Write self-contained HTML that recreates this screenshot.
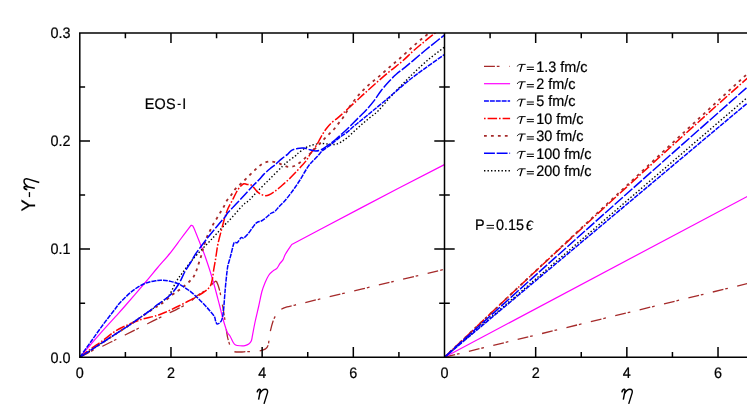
<!DOCTYPE html>
<html><head><meta charset="utf-8"><title>chart</title>
<style>html,body{margin:0;padding:0;background:#fff;}svg{display:block;will-change:transform}text{font-family:"Liberation Sans",sans-serif;fill:#000;text-rendering:geometricPrecision;stroke:#000;stroke-width:0.22px}.sy{font-family:"Liberation Serif",serif;font-style:italic}</style>
</head><body>
<svg width="747" height="416" viewBox="0 0 747 416">
<rect width="747" height="416" fill="#fff"/>
<defs><clipPath id="cl"><rect x="79.80" y="32.90" width="364.70" height="324.30"/></clipPath><clipPath id="cr"><rect x="444.50" y="32.90" width="304.50" height="324.30"/></clipPath></defs>
<g fill="none" stroke-linejoin="round" clip-path="url(#cl)">
<path d="M79.80 357.20 C81.58 356.27 86.63 353.47 90.50 351.60 C94.37 349.73 98.83 347.98 103.00 346.00 C107.17 344.02 111.75 341.62 115.50 339.75 C119.25 337.88 121.75 336.62 125.50 334.75 C129.25 332.88 134.25 330.38 138.00 328.50 C141.75 326.62 144.46 325.27 148.00 323.50 C151.54 321.73 156.33 319.36 159.25 317.90 C162.17 316.44 162.04 316.45 165.50 314.75 C168.96 313.05 175.92 309.86 180.00 307.70 C184.08 305.54 187.08 303.82 190.00 301.80 C192.92 299.78 195.00 297.47 197.50 295.60 C200.00 293.73 202.92 292.10 205.00 290.60 C207.08 289.10 208.58 287.90 210.00 286.60 C211.42 285.30 212.46 283.75 213.50 282.80 C214.54 281.85 215.79 281.22 216.25 280.90" stroke="#a52a2a" stroke-width="1.30" stroke-dasharray="10.9 1.9 2.7 9.6"/>
<path d="M281.30 309.20 C280.95 309.50 280.03 310.10 279.20 311.00 C278.37 311.90 277.32 312.93 276.30 314.60 C275.28 316.27 274.15 317.95 273.10 321.00 C272.05 324.05 270.83 328.83 270.00 332.90 C269.17 336.97 268.93 342.70 268.10 345.40 C267.27 348.10 266.77 348.12 265.00 349.10 C263.23 350.08 260.52 350.83 257.50 351.25 C254.48 351.67 249.82 351.48 246.90 351.60 C243.98 351.73 242.40 352.06 240.00 352.00 C237.60 351.94 234.08 352.00 232.50 351.25 C230.92 350.50 231.12 349.11 230.50 347.50 C229.88 345.89 229.25 343.35 228.75 341.60 C228.25 339.85 227.96 339.35 227.50 337.00 C227.04 334.65 226.50 330.83 226.00 327.50 C225.50 324.17 225.00 320.25 224.50 317.00 C224.00 313.75 223.50 310.83 223.00 308.00 C222.50 305.17 222.00 302.67 221.50 300.00 C221.00 297.33 220.57 294.46 220.00 292.00 C219.43 289.54 218.72 287.10 218.10 285.25 C217.47 283.40 216.56 281.62 216.25 280.90" stroke="#a52a2a" stroke-width="1.30" stroke-dasharray="2.7 1.9 10.9 9.6" stroke-dashoffset="15.5"/>
<path d="M281.30 309.20 C281.75 308.98 283.05 308.28 284.00 307.90 C284.95 307.52 285.37 307.33 287.00 306.90 C288.63 306.47 292.67 305.57 293.80 305.30 C297.95 304.30 300.50 303.65 318.70 299.30 C336.90 294.95 382.05 284.20 403.00 279.20 C423.95 274.20 437.50 270.95 444.40 269.30" stroke="#a52a2a" stroke-width="1.30" stroke-dasharray="10.9 1.9 2.7 9.6"/>
<path d="M79.80 357.20 C81.58 355.12 86.63 349.22 90.50 344.75 C94.37 340.28 98.83 335.09 103.00 330.40 C107.17 325.71 111.83 320.67 115.50 316.60 C119.17 312.53 120.08 311.64 125.00 306.00 C129.92 300.36 139.58 289.12 145.00 282.75 C150.42 276.38 153.43 272.54 157.50 267.75 C161.57 262.96 165.44 258.92 169.40 254.00 C173.36 249.08 177.65 243.03 181.25 238.25 C184.85 233.47 189.38 227.46 191.00 225.30 C191.20 225.35 192.00 225.55 192.20 225.60 C192.46 225.97 192.45 224.86 193.75 227.80 C195.05 230.74 198.12 238.55 200.00 243.25 C201.88 247.95 202.92 250.04 205.00 256.00 C207.08 261.96 210.07 270.75 212.50 279.00 C214.93 287.25 217.93 299.12 219.60 305.50 C221.27 311.88 221.39 313.21 222.50 317.25 C223.61 321.29 225.42 327.14 226.25 329.75 C227.08 332.36 226.88 331.86 227.50 332.90 C228.12 333.94 229.07 334.44 230.00 336.00 C230.93 337.56 232.17 340.75 233.10 342.25 C234.03 343.75 234.45 344.42 235.60 345.00 C236.75 345.58 238.43 345.65 240.00 345.75 C241.57 345.85 243.54 345.88 245.00 345.60 C246.46 345.33 247.71 344.87 248.75 344.10 C249.79 343.33 250.62 342.45 251.25 341.00 C251.88 339.55 251.88 338.52 252.50 335.40 C253.12 332.27 253.96 327.15 255.00 322.25 C256.04 317.35 257.60 311.12 258.75 306.00 C259.90 300.88 260.86 295.38 261.90 291.50 C262.94 287.62 263.86 285.46 265.00 282.75 C266.14 280.04 267.40 277.23 268.75 275.25 C270.10 273.27 271.74 272.04 273.10 270.90 C274.46 269.76 275.75 269.65 276.90 268.40 C278.05 267.15 278.97 264.87 280.00 263.40 C281.03 261.93 282.18 261.17 283.10 259.60 C284.02 258.03 284.06 256.52 285.50 254.00 C286.94 251.48 290.71 246.08 291.75 244.50 C296.62 241.92 303.29 238.33 321.00 229.00 C338.71 219.67 377.43 199.23 398.00 188.50 C418.57 177.77 436.67 168.58 444.40 164.60" stroke="#ff00ff" stroke-width="1.20"/>
<path d="M79.80 357.20 C81.58 356.07 86.63 352.89 90.50 350.40 C94.37 347.91 98.83 344.97 103.00 342.25 C107.17 339.53 111.33 336.81 115.50 334.10 C119.67 331.39 123.83 328.81 128.00 326.00 C132.17 323.19 136.33 320.17 140.50 317.25 C144.67 314.33 148.92 311.46 153.00 308.50 C157.08 305.54 162.17 301.92 165.00 299.50 C167.83 297.08 168.12 297.00 170.00 294.00 C171.88 291.00 174.17 285.04 176.25 281.50 C178.33 277.96 180.21 275.88 182.50 272.75 C184.79 269.62 187.50 265.88 190.00 262.75 C192.50 259.62 193.75 258.08 197.50 254.00 C201.25 249.92 207.92 243.17 212.50 238.25 C217.08 233.33 222.21 227.46 225.00 224.50 C227.79 221.54 226.25 223.73 229.25 220.50 C232.25 217.27 239.75 208.42 243.00 205.10 C246.25 201.78 246.33 202.91 248.75 200.60 C251.17 198.29 253.96 194.89 257.50 191.25 C261.04 187.61 265.83 182.92 270.00 178.75 C274.17 174.58 279.33 169.29 282.50 166.25 C285.67 163.21 286.92 162.17 289.00 160.50 C291.08 158.83 293.58 157.38 295.00 156.25 C296.42 155.12 295.83 155.11 297.50 153.75 C299.17 152.39 302.50 149.56 305.00 148.10 C307.50 146.64 310.00 145.77 312.50 145.00 C315.00 144.23 317.50 143.67 320.00 143.50 C322.50 143.33 325.00 143.85 327.50 144.00 C330.00 144.15 332.71 144.75 335.00 144.40 C337.29 144.05 339.17 143.05 341.25 141.90 C343.33 140.75 345.21 139.38 347.50 137.50 C349.79 135.62 352.50 132.89 355.00 130.60 C357.50 128.31 360.00 125.93 362.50 123.75 C365.00 121.57 367.33 119.71 370.00 117.50 C372.67 115.29 375.17 113.85 378.50 110.50 C381.83 107.15 386.00 101.78 390.00 97.40 C394.00 93.03 398.33 88.53 402.50 84.25 C406.67 79.97 410.62 75.92 415.00 71.75 C419.38 67.58 424.17 63.11 428.75 59.25 C433.33 55.39 439.89 50.61 442.50 48.60 C445.11 46.59 444.08 47.43 444.40 47.20" stroke="#000000" stroke-width="1.40" stroke-dasharray="1.4 2.1"/>
<path d="M79.80 357.20 C81.58 355.85 86.63 351.90 90.50 349.10 C94.37 346.30 98.83 343.42 103.00 340.40 C107.17 337.38 111.33 333.61 115.50 331.00 C119.67 328.39 123.83 326.62 128.00 324.75 C132.17 322.88 136.33 321.11 140.50 319.75 C144.67 318.39 149.88 317.43 153.00 316.60 C156.12 315.77 157.17 315.48 159.25 314.75 C161.33 314.02 163.54 313.08 165.50 312.25 C167.46 311.42 168.79 310.79 171.00 309.75 C173.21 308.71 176.00 307.38 178.75 306.00 C181.50 304.62 184.79 302.93 187.50 301.50 C190.21 300.07 192.50 298.82 195.00 297.40 C197.50 295.98 200.42 294.35 202.50 293.00 C204.58 291.65 206.15 290.55 207.50 289.30 C208.85 288.05 209.78 287.22 210.60 285.50 C211.42 283.78 211.88 281.67 212.40 279.00 C212.93 276.33 213.22 272.83 213.75 269.50 C214.28 266.17 215.18 261.50 215.60 259.00 C216.02 256.50 215.83 257.12 216.25 254.50 C216.67 251.88 217.16 247.62 218.10 243.25 C219.04 238.88 220.75 232.62 221.90 228.25 C223.05 223.88 223.97 220.33 225.00 217.00 C226.03 213.67 226.85 211.08 228.10 208.25 C229.35 205.42 231.14 202.62 232.50 200.00 C233.86 197.38 235.00 194.68 236.25 192.50 C237.50 190.32 238.75 188.36 240.00 186.90 C241.25 185.44 242.60 184.17 243.75 183.75 C244.90 183.33 245.76 184.23 246.90 184.40 C248.04 184.57 249.46 184.23 250.60 184.75 C251.74 185.27 252.60 186.31 253.75 187.50 C254.90 188.69 256.25 190.75 257.50 191.90 C258.75 193.05 260.00 193.78 261.25 194.40 C262.50 195.02 263.75 195.50 265.00 195.60 C266.25 195.70 267.08 195.72 268.75 195.00 C270.42 194.28 272.71 192.92 275.00 191.25 C277.29 189.58 280.21 186.97 282.50 185.00 C284.79 183.03 286.67 181.38 288.75 179.40 C290.83 177.42 292.92 175.29 295.00 173.10 C297.08 170.91 299.38 168.33 301.25 166.25 C303.12 164.17 304.79 162.57 306.25 160.60 C307.71 158.62 308.54 156.58 310.00 154.40 C311.46 152.22 313.54 149.69 315.00 147.50 C316.46 145.31 317.50 143.43 318.75 141.25 C320.00 139.07 321.25 136.48 322.50 134.40 C323.75 132.32 324.79 130.63 326.25 128.75 C327.71 126.87 329.38 124.88 331.25 123.10 C333.12 121.32 335.62 119.66 337.50 118.10 C339.38 116.54 341.00 115.10 342.50 113.75 C344.00 112.40 344.21 112.11 346.50 110.00 C348.79 107.89 353.17 103.93 356.25 101.10 C359.33 98.27 361.46 96.22 365.00 93.00 C368.54 89.78 373.33 85.40 377.50 81.75 C381.67 78.10 385.83 74.54 390.00 71.10 C394.17 67.66 398.54 64.53 402.50 61.10 C406.46 57.67 410.00 53.83 413.75 50.50 C417.50 47.17 421.56 43.92 425.00 41.10 C428.44 38.28 432.40 35.20 434.40 33.60 C436.40 32.00 436.57 31.85 437.00 31.50" stroke="#ff0000" stroke-width="1.50" stroke-dasharray="9.5 1.9 1.6 2.0"/>
<path d="M79.80 357.20 C81.58 356.07 86.63 352.89 90.50 350.40 C94.37 347.91 98.83 344.97 103.00 342.25 C107.17 339.53 111.33 336.81 115.50 334.10 C119.67 331.39 123.83 328.77 128.00 326.00 C132.17 323.23 136.33 320.33 140.50 317.50 C144.67 314.67 149.54 311.25 153.00 309.00 C156.46 306.75 158.00 306.40 161.25 304.00 C164.50 301.60 169.58 296.89 172.50 294.60 C175.42 292.31 176.88 291.60 178.75 290.25 C180.62 288.90 181.97 287.96 183.75 286.50 C185.53 285.04 187.73 283.17 189.40 281.50 C191.07 279.83 192.57 278.38 193.75 276.50 C194.93 274.62 195.67 272.43 196.50 270.25 C197.33 268.07 198.00 265.69 198.75 263.40 C199.50 261.11 200.29 258.90 201.00 256.50 C201.71 254.10 202.02 252.25 203.00 249.00 C203.98 245.75 205.73 240.04 206.90 237.00 C208.07 233.96 208.97 232.83 210.00 230.75 C211.03 228.67 211.95 226.58 213.10 224.50 C214.25 222.42 215.65 220.33 216.90 218.25 C218.15 216.17 219.46 213.92 220.60 212.00 C221.74 210.08 222.70 208.65 223.75 206.75 C224.80 204.85 225.65 202.56 226.90 200.60 C228.15 198.64 229.90 196.87 231.25 195.00 C232.60 193.13 233.54 191.17 235.00 189.40 C236.46 187.63 238.33 186.01 240.00 184.40 C241.67 182.79 243.33 181.36 245.00 179.75 C246.67 178.14 248.43 176.28 250.00 174.75 C251.57 173.22 252.94 171.97 254.40 170.60 C255.86 169.22 257.19 167.75 258.75 166.50 C260.31 165.25 261.88 163.93 263.75 163.10 C265.62 162.27 267.92 161.60 270.00 161.50 C272.08 161.40 274.17 161.96 276.25 162.50 C278.33 163.04 280.52 164.02 282.50 164.75 C284.48 165.48 286.12 166.69 288.10 166.90 C290.08 167.11 292.42 166.73 294.40 166.00 C296.38 165.27 298.13 163.90 300.00 162.50 C301.87 161.10 303.83 159.17 305.60 157.60 C307.37 156.03 308.93 154.68 310.60 153.10 C312.27 151.52 313.93 149.82 315.60 148.10 C317.27 146.38 319.03 144.42 320.60 142.75 C322.17 141.08 323.43 139.71 325.00 138.10 C326.57 136.49 328.43 134.66 330.00 133.10 C331.57 131.54 332.94 130.42 334.40 128.75 C335.86 127.08 337.30 124.97 338.75 123.10 C340.20 121.22 341.74 119.47 343.10 117.50 C344.46 115.53 345.75 113.15 346.90 111.25 C348.05 109.35 348.02 108.82 350.00 106.10 C351.98 103.38 355.62 98.43 358.75 94.90 C361.88 91.37 365.31 88.03 368.75 84.90 C372.19 81.77 375.86 79.12 379.40 76.10 C382.94 73.07 386.57 69.72 390.00 66.75 C393.43 63.78 396.46 61.42 400.00 58.30 C403.54 55.17 407.71 51.17 411.25 48.00 C414.79 44.83 418.54 41.54 421.25 39.25 C423.96 36.96 425.88 35.59 427.50 34.25 C429.12 32.91 430.42 31.71 431.00 31.20" stroke="#a52a2a" stroke-width="1.80" stroke-dasharray="2.8 4.15"/>
<path d="M79.80 357.20 C81.58 354.71 86.63 347.66 90.50 342.25 C94.37 336.84 98.83 330.38 103.00 324.75 C107.17 319.12 112.67 312.17 115.50 308.50 C118.33 304.83 117.17 305.68 120.00 302.75 C122.83 299.82 128.33 294.12 132.50 290.90 C136.67 287.67 140.83 285.13 145.00 283.40 C149.17 281.67 154.58 281.02 157.50 280.50 C160.42 279.98 160.42 280.12 162.50 280.25 C164.58 280.38 167.29 280.62 170.00 281.25 C172.71 281.88 175.62 282.50 178.75 284.00 C181.88 285.50 185.62 287.96 188.75 290.25 C191.88 292.54 194.69 295.12 197.50 297.75 C200.31 300.38 203.52 303.79 205.60 306.00 C207.68 308.21 208.53 309.23 210.00 311.00 C211.47 312.77 213.47 314.93 214.40 316.60 C215.33 318.27 215.18 319.78 215.60 321.00 C216.02 322.22 216.38 323.48 216.90 323.90 C217.43 324.32 218.03 323.98 218.75 323.50 C219.47 323.02 220.58 322.25 221.25 321.00 C221.92 319.75 222.33 318.17 222.75 316.00 C223.17 313.83 223.44 311.17 223.75 308.00 C224.06 304.83 224.29 300.79 224.60 297.00 C224.91 293.21 225.12 290.12 225.60 285.25 C226.08 280.38 226.87 271.92 227.50 267.75 C228.13 263.58 228.80 262.54 229.40 260.25 C230.00 257.96 230.40 256.73 231.10 254.00 C231.80 251.28 232.97 245.86 233.60 243.90 C234.23 241.94 234.27 242.47 234.90 242.25 C235.53 242.03 236.37 243.38 237.40 242.60 C238.43 241.82 240.07 238.37 241.10 237.60 C242.13 236.83 242.45 238.62 243.60 238.00 C244.75 237.38 246.43 235.73 248.00 233.90 C249.57 232.07 251.54 228.88 253.00 227.00 C254.46 225.12 255.29 223.64 256.75 222.60 C258.21 221.56 260.08 221.68 261.75 220.75 C263.42 219.82 265.19 218.25 266.75 217.00 C268.31 215.75 269.74 214.18 271.10 213.25 C272.46 212.32 273.54 212.54 274.90 211.40 C276.26 210.26 277.67 208.09 279.25 206.40 C280.83 204.71 282.61 203.25 284.40 201.25 C286.19 199.25 288.23 196.69 290.00 194.40 C291.77 192.11 293.33 189.90 295.00 187.50 C296.67 185.10 298.43 182.50 300.00 180.00 C301.57 177.50 302.94 174.90 304.40 172.50 C305.86 170.10 307.50 167.35 308.75 165.60 C310.00 163.85 310.44 163.56 311.90 162.00 C313.36 160.44 315.73 158.15 317.50 156.25 C319.27 154.35 320.62 152.27 322.50 150.60 C324.38 148.93 326.67 147.81 328.75 146.25 C330.83 144.69 332.92 142.92 335.00 141.25 C337.08 139.58 339.17 137.81 341.25 136.25 C343.33 134.69 345.42 133.57 347.50 131.90 C349.58 130.23 351.67 128.03 353.75 126.25 C355.83 124.47 357.92 122.92 360.00 121.25 C362.08 119.58 363.96 118.12 366.25 116.25 C368.54 114.38 370.83 112.42 373.75 110.00 C376.67 107.58 380.00 104.90 383.75 101.75 C387.50 98.60 392.08 94.64 396.25 91.10 C400.42 87.56 403.96 84.30 408.75 80.50 C413.54 76.70 419.06 72.62 425.00 68.30 C430.94 63.98 441.17 56.88 444.40 54.60" stroke="#0000ff" stroke-width="1.50" stroke-dasharray="4.9 1.0"/>
<path d="M79.80 357.20 C81.58 356.07 86.63 352.89 90.50 350.40 C94.37 347.91 98.83 344.97 103.00 342.25 C107.17 339.53 111.33 336.81 115.50 334.10 C119.67 331.39 123.83 328.81 128.00 326.00 C132.17 323.19 136.33 320.17 140.50 317.25 C144.67 314.33 150.48 310.38 153.00 308.50 C155.52 306.62 152.77 308.21 155.60 306.00 C158.43 303.79 166.14 298.92 170.00 295.25 C173.86 291.58 176.25 287.96 178.75 284.00 C181.25 280.04 182.92 275.25 185.00 271.50 C187.08 267.75 189.48 264.42 191.25 261.50 C193.02 258.58 193.10 257.67 195.60 254.00 C198.10 250.33 202.60 244.21 206.25 239.50 C209.90 234.79 214.38 229.50 217.50 225.75 C220.62 222.00 223.25 219.19 225.00 217.00 C226.75 214.81 225.83 215.10 228.00 212.60 C230.17 210.10 235.17 205.03 238.00 202.00 C240.83 198.97 242.58 197.03 245.00 194.40 C247.42 191.78 250.21 188.65 252.50 186.25 C254.79 183.85 256.88 181.97 258.75 180.00 C260.62 178.03 261.88 176.28 263.75 174.40 C265.62 172.53 268.12 170.32 270.00 168.75 C271.88 167.18 273.75 166.04 275.00 165.00 C276.25 163.96 276.25 163.65 277.50 162.50 C278.75 161.35 280.83 159.45 282.50 158.10 C284.17 156.75 286.04 155.65 287.50 154.40 C288.96 153.15 289.58 151.58 291.25 150.60 C292.92 149.62 295.42 148.92 297.50 148.50 C299.58 148.08 301.67 147.89 303.75 148.10 C305.83 148.31 308.02 149.27 310.00 149.75 C311.98 150.23 313.73 151.00 315.60 151.00 C317.48 151.00 319.27 150.65 321.25 149.75 C323.23 148.85 325.21 147.22 327.50 145.60 C329.79 143.97 332.71 141.87 335.00 140.00 C337.29 138.13 339.17 136.28 341.25 134.40 C343.33 132.53 345.42 130.73 347.50 128.75 C349.58 126.77 351.67 124.58 353.75 122.50 C355.83 120.42 357.92 118.33 360.00 116.25 C362.08 114.17 363.96 112.53 366.25 110.00 C368.54 107.47 371.25 104.35 373.75 101.10 C376.25 97.85 378.75 93.72 381.25 90.50 C383.75 87.28 386.25 84.46 388.75 81.75 C391.25 79.04 393.54 76.64 396.25 74.25 C398.96 71.86 402.29 69.59 405.00 67.40 C407.71 65.21 409.17 63.92 412.50 61.10 C415.83 58.28 420.83 53.93 425.00 50.50 C429.17 47.07 434.27 43.05 437.50 40.50 C440.73 37.95 443.25 36.08 444.40 35.20" stroke="#0000ff" stroke-width="1.50" stroke-dasharray="10.9 1.8"/>
</g>
<g fill="none" clip-path="url(#cr)">
<path d="M444.50 357.20 Q602.50 318.81 760.50 280.41" stroke="#a52a2a" stroke-width="1.30" stroke-dasharray="10.9 1.9 2.7 9.6"/>
<path d="M444.50 357.20 Q602.50 273.30 760.50 189.40" stroke="#ff00ff" stroke-width="1.20"/>
<path d="M444.50 357.20 Q602.50 221.71 760.50 86.23" stroke="#000000" stroke-width="1.40" stroke-dasharray="1.4 2.1"/>
<path d="M444.50 357.20 Q602.50 206.63 760.50 66.54" stroke="#ff0000" stroke-width="1.50" stroke-dasharray="9.5 1.9 1.6 2.0"/>
<path d="M444.50 357.20 Q602.50 206.94 760.50 61.68" stroke="#a52a2a" stroke-width="1.80" stroke-dasharray="2.8 4.15"/>
<path d="M444.50 357.20 Q602.50 224.64 760.50 92.08" stroke="#0000ff" stroke-width="1.50" stroke-dasharray="4.9 1.0"/>
<path d="M444.50 357.20 Q602.50 214.37 760.50 75.53" stroke="#0000ff" stroke-width="1.50" stroke-dasharray="10.9 1.8"/>
</g>
<g stroke="#000" stroke-width="1.50" fill="none" stroke-linecap="butt">
<path d="M79.05 32.90 H747"/>
<path d="M79.05 357.20 H747"/>
<path d="M79.80 32.90 V357.20"/>
<path d="M444.50 32.90 V357.20"/>
<path d="M125.39 357.20 v-5.30 M125.39 32.90 v5.30 M170.97 357.20 v-10.20 M170.97 32.90 v10.20 M216.56 357.20 v-5.30 M216.56 32.90 v5.30 M262.15 357.20 v-10.20 M262.15 32.90 v10.20 M307.74 357.20 v-5.30 M307.74 32.90 v5.30 M353.32 357.20 v-10.20 M353.32 32.90 v10.20 M398.91 357.20 v-5.30 M398.91 32.90 v5.30 M490.09 357.20 v-5.30 M490.09 32.90 v5.30 M535.67 357.20 v-10.20 M535.67 32.90 v10.20 M581.26 357.20 v-5.30 M581.26 32.90 v5.30 M626.85 357.20 v-10.20 M626.85 32.90 v10.20 M672.44 357.20 v-5.30 M672.44 32.90 v5.30 M718.02 357.20 v-10.20 M718.02 32.90 v10.20 M79.80 303.15 h5.30 M439.20 303.15 h10.60 M79.80 249.10 h10.20 M434.30 249.10 h20.40 M79.80 195.05 h5.30 M439.20 195.05 h10.60 M79.80 141.00 h10.20 M434.30 141.00 h20.40 M79.80 86.95 h5.30 M439.20 86.95 h10.60"/>
</g>
<g>
<text font-size="15.10" transform="translate(70.50 362.50) scale(0.955 1)" text-anchor="end">0.0</text>
<text font-size="15.10" transform="translate(70.50 254.40) scale(0.955 1)" text-anchor="end">0.1</text>
<text font-size="15.10" transform="translate(70.50 146.30) scale(0.955 1)" text-anchor="end">0.2</text>
<text font-size="15.10" transform="translate(70.50 38.20) scale(0.955 1)" text-anchor="end">0.3</text>
<text font-size="15.10" transform="translate(79.80 377.50) scale(0.955 1)" text-anchor="middle">0</text>
<text font-size="15.10" transform="translate(170.97 377.50) scale(0.955 1)" text-anchor="middle">2</text>
<text font-size="15.10" transform="translate(262.15 377.50) scale(0.955 1)" text-anchor="middle">4</text>
<text font-size="15.10" transform="translate(353.32 377.50) scale(0.955 1)" text-anchor="middle">6</text>
<text font-size="15.10" transform="translate(444.50 377.50) scale(0.955 1)" text-anchor="middle">0</text>
<text font-size="15.10" transform="translate(535.67 377.50) scale(0.955 1)" text-anchor="middle">2</text>
<text font-size="15.10" transform="translate(626.85 377.50) scale(0.955 1)" text-anchor="middle">4</text>
<text font-size="15.10" transform="translate(718.02 377.50) scale(0.955 1)" text-anchor="middle">6</text>
<text font-size="15.10" transform="translate(144.70 108.80) scale(0.955 1)" text-anchor="start" letter-spacing="0.25">EOS</text>
<path d="M177.6 104.4 H180.7" stroke="#000" stroke-width="1.2" fill="none"/>
<text font-size="15.10" transform="translate(182.20 108.80) scale(0.955 1)" text-anchor="start">I</text>
<text font-size="15.10" transform="translate(474.90 229.90) scale(0.955 1)" text-anchor="start">P</text>
<path d="M486.60 225.40 H494.00 M486.60 228.10 H494.00" stroke="#000" stroke-width="1.00" fill="none"/>
<text font-size="15.10" transform="translate(496.00 229.90) scale(0.955 1)" text-anchor="start">0.15</text>
</g>
<text class="sy" font-size="20.00" transform="translate(526.00 230.30) scale(0.853 1)">ϵ</text>
<g transform="translate(256.75 388.75)" fill="none" stroke="#000" stroke-linecap="butt" stroke-linejoin="round"><path d="M0.35 3.65 C0.85 1.65 2.05 0.45 2.95 0.55 C3.65 0.65 3.65 1.55 3.45 2.55 L1.85 10.85" stroke-width="1.45"/><path d="M3.15 4.65 C4.45 2.25 6.55 0.5 8.45 0.5 C10.45 0.5 11.15 1.85 10.75 3.85 L7.25 15.15" stroke-width="1.4"/></g>
<g transform="translate(621.45 388.75)" fill="none" stroke="#000" stroke-linecap="butt" stroke-linejoin="round"><path d="M0.35 3.65 C0.85 1.65 2.05 0.45 2.95 0.55 C3.65 0.65 3.65 1.55 3.45 2.55 L1.85 10.85" stroke-width="1.45"/><path d="M3.15 4.65 C4.45 2.25 6.55 0.5 8.45 0.5 C10.45 0.5 11.15 1.85 10.75 3.85 L7.25 15.15" stroke-width="1.4"/></g>
<g transform="translate(23.5 190.1) rotate(-90) scale(1.04)" fill="none" stroke="#000" stroke-linecap="butt" stroke-linejoin="round"><path d="M0.35 3.65 C0.85 1.65 2.05 0.45 2.95 0.55 C3.65 0.65 3.65 1.55 3.45 2.55 L1.85 10.85" stroke-width="1.45"/><path d="M3.15 4.65 C4.45 2.25 6.55 0.5 8.45 0.5 C10.45 0.5 11.15 1.85 10.75 3.85 L7.25 15.15" stroke-width="1.4"/></g>
<g transform="translate(34.5 211.6) rotate(-90)">
<text font-size="19.5" transform="scale(0.93 1)" x="0" y="0">Y</text>
<path d="M14.5 -5.05 H19.5" stroke="#000" stroke-width="1.3"/>
</g>
<g fill="none">
<path d="M484.00 66.30 H509.65" stroke="#a52a2a" stroke-width="1.30" stroke-dasharray="10.9 1.9 2.7 9.6"/>
<path d="M484.00 83.70 H510.10" stroke="#ff00ff" stroke-width="1.20"/>
<path d="M484.00 101.10 H510.10" stroke="#0000ff" stroke-width="1.50" stroke-dasharray="4.9 1.0"/>
<path d="M484.00 118.50 H510.10" stroke="#ff0000" stroke-width="1.50" stroke-dasharray="9.5 1.9 1.6 2.0" stroke-dashoffset="11.4"/>
<path d="M484.00 135.90 H510.10" stroke="#a52a2a" stroke-width="1.80" stroke-dasharray="2.8 4.15"/>
<path d="M484.00 153.30 H510.10" stroke="#0000ff" stroke-width="1.50" stroke-dasharray="10.9 1.8"/>
<path d="M484.00 170.70 H510.10" stroke="#000000" stroke-width="1.40" stroke-dasharray="1.4 2.1"/>
</g>
<g>
<g transform="translate(517.0 71.70)" fill="none" stroke="#000"><path d="M0.25 -5.2 C0.9 -6.6 1.7 -7.3 3.1 -7.3 L8.7 -7.3" stroke-width="0.95"/><path d="M5.15 -7.3 C4.6 -5 3.7 -2.2 3.0 0" stroke-width="1.3"/></g>
<path d="M526.80 67.20 H533.90 M526.80 69.50 H533.90" stroke="#000" stroke-width="1.00" fill="none"/>
<text font-size="15.10" transform="translate(536.20 71.60) scale(0.955 1)" text-anchor="start">1.3 fm/c</text>
<g transform="translate(517.0 89.10)" fill="none" stroke="#000"><path d="M0.25 -5.2 C0.9 -6.6 1.7 -7.3 3.1 -7.3 L8.7 -7.3" stroke-width="0.95"/><path d="M5.15 -7.3 C4.6 -5 3.7 -2.2 3.0 0" stroke-width="1.3"/></g>
<path d="M526.80 84.60 H533.90 M526.80 86.90 H533.90" stroke="#000" stroke-width="1.00" fill="none"/>
<text font-size="15.10" transform="translate(536.20 89.00) scale(0.955 1)" text-anchor="start">2 fm/c</text>
<g transform="translate(517.0 106.50)" fill="none" stroke="#000"><path d="M0.25 -5.2 C0.9 -6.6 1.7 -7.3 3.1 -7.3 L8.7 -7.3" stroke-width="0.95"/><path d="M5.15 -7.3 C4.6 -5 3.7 -2.2 3.0 0" stroke-width="1.3"/></g>
<path d="M526.80 102.00 H533.90 M526.80 104.30 H533.90" stroke="#000" stroke-width="1.00" fill="none"/>
<text font-size="15.10" transform="translate(536.20 106.40) scale(0.955 1)" text-anchor="start">5 fm/c</text>
<g transform="translate(517.0 123.90)" fill="none" stroke="#000"><path d="M0.25 -5.2 C0.9 -6.6 1.7 -7.3 3.1 -7.3 L8.7 -7.3" stroke-width="0.95"/><path d="M5.15 -7.3 C4.6 -5 3.7 -2.2 3.0 0" stroke-width="1.3"/></g>
<path d="M526.80 119.40 H533.90 M526.80 121.70 H533.90" stroke="#000" stroke-width="1.00" fill="none"/>
<text font-size="15.10" transform="translate(536.20 123.80) scale(0.955 1)" text-anchor="start">10 fm/c</text>
<g transform="translate(517.0 141.30)" fill="none" stroke="#000"><path d="M0.25 -5.2 C0.9 -6.6 1.7 -7.3 3.1 -7.3 L8.7 -7.3" stroke-width="0.95"/><path d="M5.15 -7.3 C4.6 -5 3.7 -2.2 3.0 0" stroke-width="1.3"/></g>
<path d="M526.80 136.80 H533.90 M526.80 139.10 H533.90" stroke="#000" stroke-width="1.00" fill="none"/>
<text font-size="15.10" transform="translate(536.20 141.20) scale(0.955 1)" text-anchor="start">30 fm/c</text>
<g transform="translate(517.0 158.70)" fill="none" stroke="#000"><path d="M0.25 -5.2 C0.9 -6.6 1.7 -7.3 3.1 -7.3 L8.7 -7.3" stroke-width="0.95"/><path d="M5.15 -7.3 C4.6 -5 3.7 -2.2 3.0 0" stroke-width="1.3"/></g>
<path d="M526.80 154.20 H533.90 M526.80 156.50 H533.90" stroke="#000" stroke-width="1.00" fill="none"/>
<text font-size="15.10" transform="translate(536.20 158.60) scale(0.955 1)" text-anchor="start">100 fm/c</text>
<g transform="translate(517.0 176.10)" fill="none" stroke="#000"><path d="M0.25 -5.2 C0.9 -6.6 1.7 -7.3 3.1 -7.3 L8.7 -7.3" stroke-width="0.95"/><path d="M5.15 -7.3 C4.6 -5 3.7 -2.2 3.0 0" stroke-width="1.3"/></g>
<path d="M526.80 171.60 H533.90 M526.80 173.90 H533.90" stroke="#000" stroke-width="1.00" fill="none"/>
<text font-size="15.10" transform="translate(536.20 176.00) scale(0.955 1)" text-anchor="start">200 fm/c</text>
</g>
</svg></body></html>
